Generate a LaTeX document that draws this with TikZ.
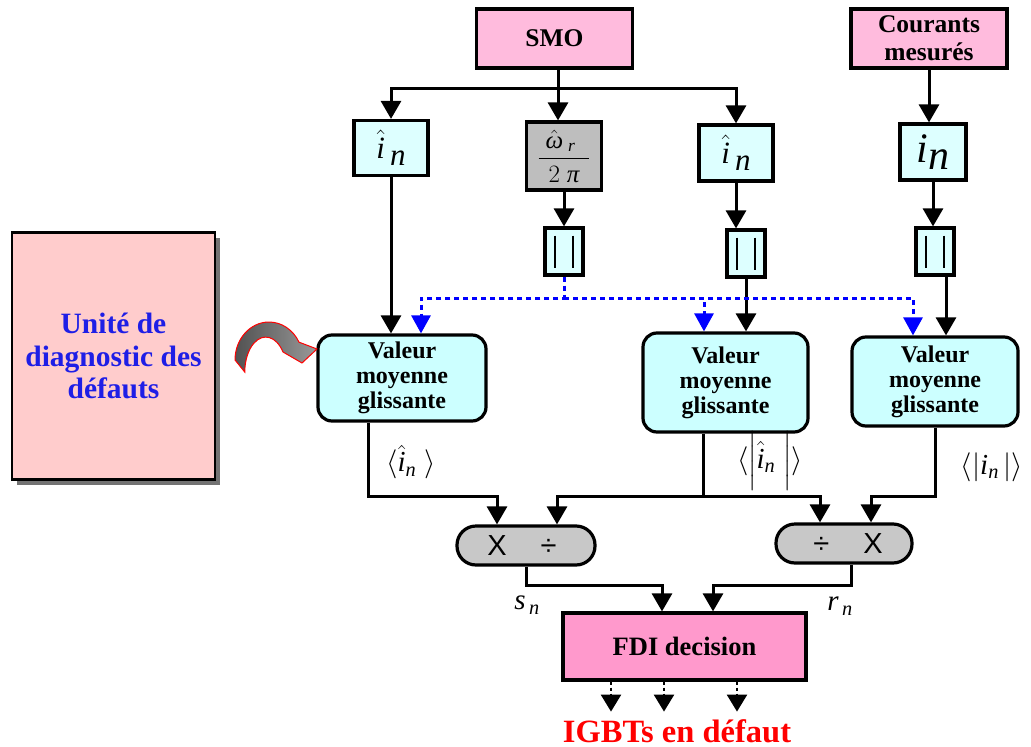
\RequirePackage{fix-cm}
\documentclass[tikz,border=0pt]{standalone}
\usepackage{amsmath}
\usepackage{fontspec}
\setmainfont{Liberation Serif}
\newfontfamily\opfont{Liberation Sans}
\usetikzlibrary{arrows.meta,shadows}

\definecolor{srcpink}{HTML}{FFBBDD}
\definecolor{fdipink}{HTML}{FF99CC}
\definecolor{lightcyan}{HTML}{DDFFFF}
\definecolor{vmgcyan}{HTML}{CCFFFF}
\definecolor{fracgray}{HTML}{BEBEBE}
\definecolor{opgray}{HTML}{C8C8C8}
\definecolor{unitpink}{HTML}{FFCCCC}
\definecolor{unitblue}{RGB}{30,30,230}

% italic letters set in the text face
\newcommand{\vi}[1]{\textit{#1}}
\newcommand{\lowsub}[2][6pt]{\raisebox{-#1}{\textit{#2}}}

\begin{document}
\begin{tikzpicture}[x=1pt,y=-1pt,
  box/.style={draw=black, line width=3.2pt, inner sep=0pt, align=center},
  wire/.style={line width=3pt},
  conn/.style={line width=3pt, -{Triangle[length=18pt,width=20pt]}},
  bconn/.style={draw=blue, line width=3pt, dash pattern=on 5pt off 4pt,
                -{Triangle[length=18pt,width=19pt]}},
  dconn/.style={line width=2.4pt, dash pattern=on 3pt off 3pt,
                -{Triangle[length=17pt,width=20pt]}},
  srcbox/.style={box, fill=srcpink, minimum width=156pt, minimum height=59pt,
                 font=\fontsize{25.5}{28}\selectfont\bfseries},
  sigbox/.style={box, fill=lightcyan},
  absbox/.style={box, fill=lightcyan, minimum width=38pt, minimum height=47pt},
  vmgbox/.style={box, fill=vmgcyan, rounded corners=14pt,
                 font=\fontsize{24}{25}\selectfont\bfseries},
  opbox/.style={box, fill=opgray, rounded corners=19pt, minimum width=137pt,
                minimum height=39pt, font=\opfont\fontsize{29}{29}\selectfont},
  lbl/.style={inner sep=0pt, font=\fontsize{29}{29}\selectfont},
]
\useasboundingbox (0,0) rectangle (1031,747);

% ---------- sources ----------
\node[srcbox] (smo) at (554.5,38.5) {SMO};
\node[srcbox] (cm) at (929,38.5) {Courants\\mesurés};

% ---------- signal boxes ----------
\node[sigbox, minimum width=74pt, minimum height=55pt] (in1) at (391,148)
  {\fontsize{31}{31}\selectfont$\hat{\vi{i}}$\,\lowsub[7pt]{n}};
\node[box, fill=fracgray, minimum width=75pt, minimum height=68pt] (frac) at (564,156)
  {\fontsize{25}{25}\selectfont$\displaystyle\frac{\;\hat{\vi{ω}}_{\;\vi{r}}\;\;}{2\;\vi{π}}$};
\node[sigbox, minimum width=74pt, minimum height=56pt] (in2) at (736,153)
  {\fontsize{31}{31}\selectfont$\hat{\vi{i}}$\,\lowsub[7pt]{n}};
\node[sigbox, minimum width=66pt, minimum height=56pt] (in3) at (933,152)
  {\fontsize{42}{42}\selectfont\vi{i}\lowsub[7pt]{n}};

% ---------- absolute value blocks ----------
\node[absbox] (abs1) at (564,251.5) {};
\node[absbox] (abs2) at (746,253.5) {};
\node[absbox] (abs3) at (935,251.5) {};
\foreach \a in {abs1,abs2,abs3}{
  \draw[line width=1.4pt] ([xshift=-9pt,yshift=16pt]\a.center) -- ([xshift=-9pt,yshift=-16pt]\a.center);
  \draw[line width=1.4pt] ([xshift=9pt,yshift=16pt]\a.center) -- ([xshift=9pt,yshift=-16pt]\a.center);
}

% ---------- moving average blocks ----------
\node[vmgbox, minimum width=168pt, minimum height=86pt] (vmg1) at (402,378)
  {Valeur\\moyenne\\glissante};
\node[vmgbox, minimum width=165pt, minimum height=99pt] (vmg2) at (725.5,382.5)
  {Valeur\\moyenne\\glissante};
\node[vmgbox, minimum width=166pt, minimum height=89pt] (vmg3) at (935,381.5)
  {Valeur\\moyenne\\glissante};

% ---------- operators ----------
\node[opbox, minimum width=138pt] (op1) at (526,545.5) {X\hspace{34pt}÷\hspace{8pt}};
\node[opbox, minimum width=136pt] (op2) at (844,543.5) {\hspace{8pt}÷\hspace{34pt}X};

% ---------- decision ----------
\node[box, fill=fdipink, minimum width=243pt, minimum height=67pt,
      font=\fontsize{26.5}{26.5}\selectfont\bfseries] (fdi) at (684.5,646.5) {FDI decision};
\node[inner sep=0pt, anchor=base, text=red, font=\fontsize{32.5}{32.5}\selectfont\bfseries]
  (igbt) at (677,742) {IGBTs en défaut};

% ---------- diagnosis unit ----------
\node[box, line width=2.2pt, fill=unitpink, minimum width=203pt, minimum height=247pt,
      text=unitblue, font=\fontsize{29.5}{32.5}\selectfont\bfseries,
      drop shadow={shadow xshift=5pt, shadow yshift=-5pt, fill=black!55, opacity=1}]
  (unit) at (113.5,356) {Unité de\\diagnostic des\\défauts};

% curved block arrow pointing to the first averaging block
\shade[left color=black!68, right color=black!40, draw=red, line width=1pt]
  (235,360) arc[start angle=180, end angle=332, x radius=34, y radius=38]
  -- (317,349) -- (302,363) -- (283,352)
  arc[start angle=325, end angle=180, x radius=21, y radius=35] -- cycle;

% ---------- labels ----------
\node[lbl] (l1) at (411,462) {$\langle\hat{\vi{i}}_{\vi{n}}\;\rangle$};
\node[lbl] (l2) at (770,461) {$\langle\Bigl|\hat{\vi{i}}_{\vi{n}}\;\Bigr|\rangle$};
\node[lbl] (l3) at (992,467) {$\langle|\vi{i}_{\vi{n}}\,|\rangle$};
\node[lbl] (sn) at (527,605) {$\vi{s}_{\,\vi{n}}$};
\node[lbl] (rn) at (840,606) {$\vi{r}_{\,\vi{n}}$};

% ---------- connectors: top distribution ----------
\coordinate (j0) at (558,88);
\draw[wire] (smo.south -| j0) -- (j0);
\draw[conn] (j0) -| (in1.north);
\draw[conn] (j0) -- (j0 |- frac.north);
\draw[conn] (j0) -| (in2.north);
\draw[conn] (cm.south) -- (cm.south |- in3.north);

\draw[conn] (frac.south) -- (abs1.north);
\draw[conn] (in2.south) -- (in2.south |- abs2.north);
\draw[conn] (in3.south) -- (in3.south |- abs3.north);

\draw[conn] (in1.south) -- (in1.south |- vmg1.north);
\draw[conn] (abs2.south) -- (abs2.south |- vmg2.north);
\coordinate (a3o) at ([xshift=11pt]abs3.south);
\draw[conn] (a3o) -- (a3o |- vmg3.north);

% frequency signal, dashed blue
\coordinate (bh) at (0,298);
\draw[bconn] (abs1.south) -- (abs1.south |- bh) -| ([xshift=19pt]vmg1.north);
\draw[bconn] (abs1.south |- bh) -| ([xshift=-21.5pt]vmg2.north);
\draw[bconn] (abs1.south |- bh) -| ([xshift=-22pt]vmg3.north);

% ---------- connectors: averages to operators ----------
\coordinate (op1a) at ([xshift=-29pt]op1.north);
\coordinate (op1b) at ([xshift=31pt]op1.north);
\coordinate (op2a) at ([xshift=-24pt]op2.north);
\coordinate (op2b) at ([xshift=27pt]op2.north);
\coordinate (y1) at (0,496);

\coordinate (v1o) at ([xshift=-34pt]vmg1.south);
\draw[conn] (v1o) |- (op1a |- y1) -- (op1a);
\coordinate (v2o) at ([xshift=-22.5pt]vmg2.south);
\coordinate (j2) at (v2o |- y1);
\draw[wire] (v2o) -- (j2);
\draw[conn] (j2) -| (op1b);
\draw[conn] (j2) -| (op2a);
\draw[conn] (vmg3.south) |- (op2b |- y1) -- (op2b);

% ---------- connectors: operators to decision ----------
\coordinate (fa) at ([xshift=-22.5pt]fdi.north);
\coordinate (fb) at ([xshift=28.5pt]fdi.north);
\coordinate (y2) at (0,585);
\draw[conn] (op1.south) |- (fa |- y2) -- (fa);
\coordinate (o2o) at ([xshift=7pt]op2.south);
\draw[conn] (o2o) |- (fb |- y2) -- (fb);

% ---------- decision outputs ----------
\draw[dconn] ([xshift=-73.5pt]fdi.south) -- ++(0,30);
\draw[dconn] ([xshift=-20.5pt]fdi.south) -- ++(0,30);
\draw[dconn] ([xshift=52.5pt]fdi.south) -- ++(0,30);
\end{tikzpicture}
\end{document}
